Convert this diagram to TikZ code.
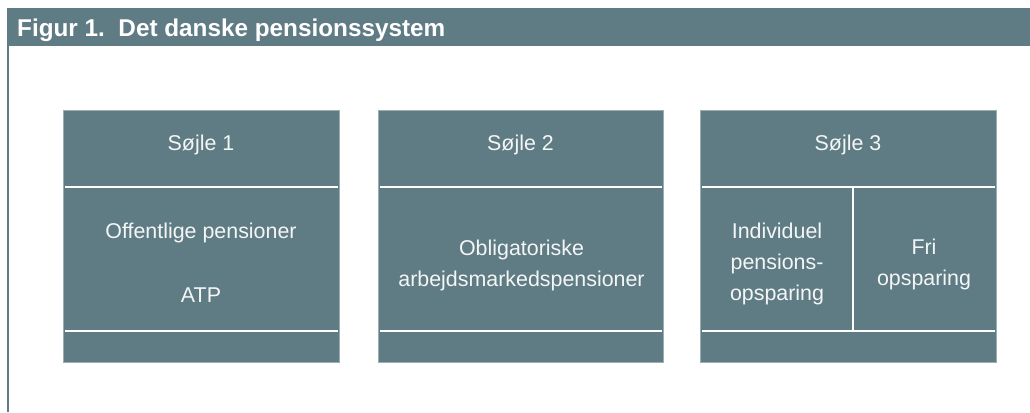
\documentclass[tikz,border=0pt]{standalone}
\usepackage{fontspec}
\setmainfont{Liberation Sans}
\definecolor{pillarteal}{HTML}{5F7B84}
\definecolor{pillaredge}{HTML}{9AAEB4}
\definecolor{offwhite}{HTML}{F4F6F6}
\begin{document}
\begin{tikzpicture}[x=1pt,y=-1pt,
  pillar/.style={fill=pillarteal,draw=pillaredge,line width=0.8pt,inner sep=0pt,anchor=north west},
  divider/.style={draw=white,line width=2pt},
  bodytext/.style={text=offwhite,font=\fontsize{21.4}{25}\selectfont,anchor=base,inner sep=0pt},
  titletext/.style={text=white,font=\bfseries\fontsize{24.3}{28}\selectfont,anchor=base west,inner sep=0pt}]
\useasboundingbox (0,0) rectangle (1030,412);
% frame
\fill[pillarteal] (7,8) rectangle (1030,46);
\fill[pillarteal] (7,46) rectangle (9,412);
\node[titletext] (title) at (17,37) {Figur 1.\ \ Det danske pensionssystem};
% pillars
\node[pillar,minimum width=276,minimum height=252] (p1) at (63,110) {};
\node[pillar,minimum width=285,minimum height=252] (p2) at (378,110) {};
\node[pillar,minimum width=296,minimum height=252] (p3) at (700,110) {};
% dividers
\foreach \p in {p1,p2,p3}{
  \draw[divider] ([xshift=2]\p.west |- 0,186.7) -- ([xshift=-2]\p.east |- 0,186.7);
  \draw[divider] ([xshift=2]\p.west |- 0,330.5) -- ([xshift=-2]\p.east |- 0,330.5);
}
\coordinate (vtop) at (852.7,186.7);
\coordinate (vbot) at (852.7,330.5);
\draw[divider] (vtop) -- (vbot);
% texts
\node[bodytext] (s1) at (201,150) {Søjle 1};
\node[bodytext] (s2) at (520.5,150) {Søjle 2};
\node[bodytext] (s3) at (848,150) {Søjle 3};
\node[bodytext] (t1a) at (201,238.5) {Offentlige pensioner};
\node[bodytext] (t1b) at (201,302.5) {ATP};
\node[bodytext] (t2a) at (521.5,255) {Obligatoriske};
\node[bodytext] (t2b) at (521.5,286.5) {arbejdsmarkedspensioner};
\node[bodytext] (t3a) at (777,238.5) {Individuel};
\node[bodytext] (t3b) at (777,269.5) {pensions-};
\node[bodytext] (t3c) at (777,300.5) {opsparing};
\node[bodytext] (t4a) at (924,254) {Fri};
\node[bodytext] (t4b) at (924,285.5) {opsparing};
\end{tikzpicture}
\end{document}
